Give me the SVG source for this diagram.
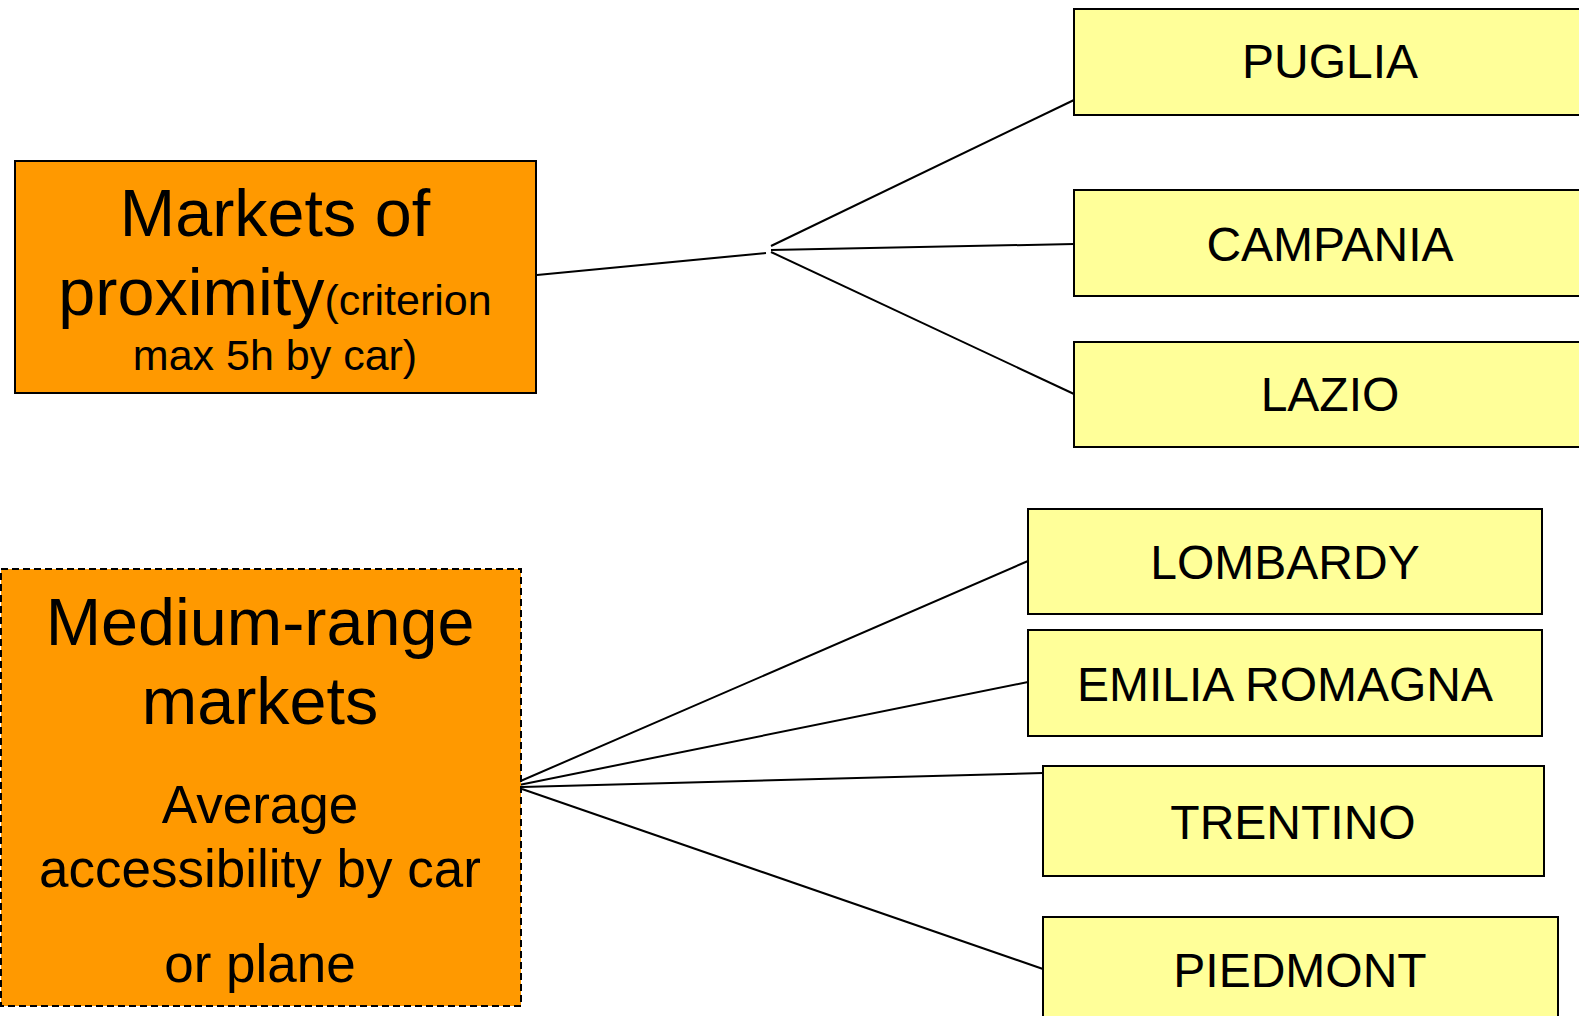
<svg xmlns="http://www.w3.org/2000/svg" width="1579" height="1016" viewBox="0 0 1579 1016">
<style>
text{font-family:"Liberation Sans",Arial,sans-serif;fill:#000;text-anchor:middle}
.or{fill:#FF9900;stroke:#000;stroke-width:2}
.ye{fill:#FFFF99;stroke:#000;stroke-width:2}
.lab{font-size:48px}
.big{font-size:66.5px}
.mid{font-size:43px}
.avg{font-size:53px}
.con line{stroke:#000;stroke-width:2}
</style>
<rect width="1579" height="1016" fill="#fff"/>
<g class="con" id="connectors">
<line x1="537" y1="275" x2="766" y2="253"/>
<line x1="771" y1="246" x2="1074" y2="100"/>
<line x1="771" y1="250" x2="1074" y2="244"/>
<line x1="771" y1="252" x2="1074" y2="394"/>
<line x1="516" y1="783" x2="1028" y2="561"/>
<line x1="519" y1="785" x2="1028" y2="682"/>
<line x1="522" y1="787" x2="1043" y2="773"/>
<line x1="522" y1="789" x2="1043" y2="969"/>
</g>
<g id="proximity">
<rect class="or" x="15" y="161" width="521" height="232"/>
<text class="big" x="275" y="236">Markets of</text>
<text x="275" y="315"><tspan class="big">proximity</tspan><tspan class="mid">(criterion</tspan></text>
<text class="mid" x="275" y="370">max 5h by car)</text>
</g>
<g id="medium">
<rect class="or" x="1" y="569" width="520" height="437" stroke-dasharray="7,4"/>
<text class="big" x="260" y="645">Medium-range</text>
<text class="big" x="260" y="724">markets</text>
<text class="avg" x="260" y="823">Average</text>
<text class="avg" x="260" y="887">accessibility by car</text>
<text class="avg" x="260" y="982">or plane</text>
</g>
<g id="puglia"><rect class="ye" x="1074" y="9" width="530" height="106"/><text class="lab" x="1330" y="78">PUGLIA</text></g>
<g id="campania"><rect class="ye" x="1074" y="190" width="530" height="106"/><text class="lab" x="1330" y="261">CAMPANIA</text></g>
<g id="lazio"><rect class="ye" x="1074" y="342" width="530" height="105"/><text class="lab" x="1330" y="411">LAZIO</text></g>
<g id="lombardy"><rect class="ye" x="1028" y="509" width="514" height="105"/><text class="lab" x="1285" y="579">LOMBARDY</text></g>
<g id="emilia"><rect class="ye" x="1028" y="630" width="514" height="106"/><text class="lab" x="1285" y="701">EMILIA ROMAGNA</text></g>
<g id="trentino"><rect class="ye" x="1043" y="766" width="501" height="110"/><text class="lab" x="1293" y="839">TRENTINO</text></g>
<g id="piedmont"><rect class="ye" x="1043" y="917" width="515" height="120"/><text class="lab" x="1300" y="987">PIEDMONT</text></g>
</svg>
